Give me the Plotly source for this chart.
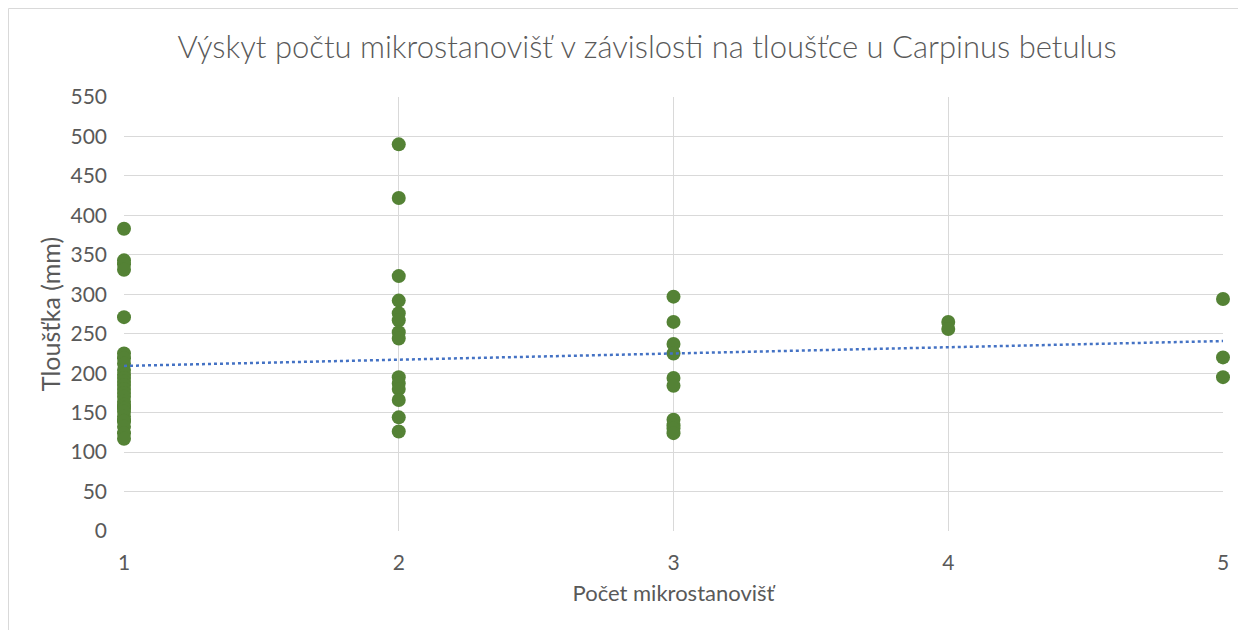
import numpy as np
import plotly.graph_objects as go

# ---- data ----
title_text = "Výskyt počtu mikrostanovišť v závislosti na tloušťce u Carpinus betulus"
x_title = "Počet mikrostanovišť"
y_title = "Tloušťka (mm)"

count_1 = [383, 343, 338, 331, 271, 225, 219, 212, 204, 198, 194, 189, 185,
           180, 175, 170, 164, 160, 157, 155, 151, 145, 140, 139, 132, 124, 117]
count_2 = [490, 422, 323, 292, 276, 267, 252, 244, 195, 187, 180, 166, 144, 126]
count_3 = [297, 265, 237, 225, 194, 184, 141, 134, 130, 124]
count_4 = [265, 256]
count_5 = [294, 220, 195]

x_ticks = [1, 2, 3, 4, 5]
y_ticks = list(range(0, 551, 50))

groups = [count_1, count_2, count_3, count_4, count_5]
xs, ys = [], []
for k, vals in zip(x_ticks, groups):
    xs += [k] * len(vals)
    ys += vals

# linear trend (as in the spreadsheet trendline)
slope, intercept = np.polyfit(xs, ys, 1)
tx = [x_ticks[0], x_ticks[-1]]
ty = [intercept + slope * v for v in tx]

FONT = "Lato"
GREY = "#595959"
GRID = "#d9d9d9"

W, H = 1238, 622          # page body has an 8px margin
L, T = 116, 89
PW, PH = 1099, 434
R = W - L - PW
B = H - T - PH

fig = go.Figure()
fig.add_trace(go.Scatter(
    x=xs, y=ys, mode="markers",
    marker=dict(size=14, color="#548235", line=dict(width=0)),
    showlegend=False, cliponaxis=False,
))
fig.add_trace(go.Scatter(
    x=tx, y=ty, mode="lines",
    line=dict(color="#4472C4", width=2.5, dash="dot"),
    showlegend=False,
))

fig.update_layout(
    width=W, height=H,
    paper_bgcolor="white", plot_bgcolor="white",
    margin=dict(l=L, r=R, t=T, b=B),
    font=dict(family=FONT, color=GREY),
    title=dict(
        text=title_text, font=dict(family=FONT, size=31, color=GREY, weight=300),
        x=(647 - 8) / W, xref="container", xanchor="center",
        y=1 - (47 - 8) / H, yref="container", yanchor="middle",
    ),
    xaxis=dict(
        range=[1, 5], tickvals=x_ticks, showgrid=True, gridcolor=GRID,
        gridwidth=1.3, zeroline=False, showline=False,
        tickfont=dict(size=21, color=GREY), ticks="", ticklabelstandoff=17,
        title=dict(text=x_title, font=dict(size=22, color=GREY), standoff=12),
    ),
    yaxis=dict(
        range=[0, 550], tickvals=y_ticks, showgrid=True, gridcolor=GRID,
        gridwidth=1.3, zeroline=False, showline=False,
        tickfont=dict(size=21, color=GREY), ticks="", ticklabelstandoff=16,
        title=dict(text=y_title, font=dict(size=25, color=GREY), standoff=2),
    ),
    shapes=[dict(
        type="rect", xref="paper", yref="paper",
        x0=(0.5 - L) / PW, x1=(1300 - L) / PW,
        y0=(T + PH - 700) / PH, y1=(T + PH - 0.5) / PH,
        line=dict(color=GRID, width=1), fillcolor="rgba(0,0,0,0)",
        layer="below",
    )],
)

fig.write_html("out.html")
